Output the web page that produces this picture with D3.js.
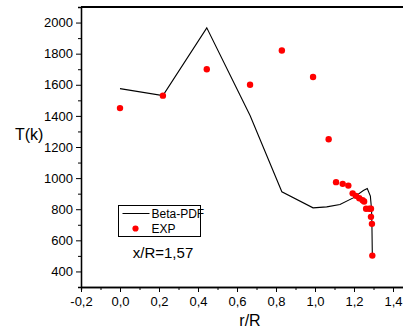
<!DOCTYPE html>
<html>
<head>
<meta charset="utf-8">
<script src="https://cdn.jsdelivr.net/npm/d3@7"></script>
<style>
	body { margin: 0; background: #fff; }
	text { font-family: "Liberation Sans", Arial, sans-serif; fill: #000; }
</style>
</head>
<body>
<div id="graph"></div>
<script>
// Beta-PDF curve
const beta_r = [0.0, 0.22, 0.445, 0.667, 0.83, 0.99, 1.06, 1.128, 1.196, 1.248, 1.268, 1.284, 1.29, 1.292, 1.294];
const beta_t = [1575, 1530, 1966, 1402, 912, 809, 815, 830, 873, 920, 933, 884, 798, 691, 498];

// experimental points
const exp_r = [0.0, 0.22, 0.445, 0.667, 0.83, 0.99, 1.07, 1.108, 1.142, 1.171, 1.193, 1.21, 1.227, 1.244, 1.252, 1.262, 1.278, 1.287, 1.287, 1.292, 1.294];
const exp_t = [1450, 1530, 1700, 1600, 1820, 1650, 1250, 974, 963, 952, 902, 886, 871, 858, 850, 803, 803, 803, 751, 706, 502];

const x_ticks = [-0.2, 0, 0.2, 0.4, 0.6, 0.8, 1.0, 1.2, 1.4];
const y_ticks = [400, 600, 800, 1000, 1200, 1400, 1600, 1800, 2000];

const params = {
		width: 403,
		height: 331,
		left: 81,
		top: 7,
		bottom: 287,
		dot_r: 3.2,
		red: "#ff0000"
	},
	svg = d3.select('#graph').append('svg')
		.attr('width', params.width)
		.attr('height', params.height);

const x = d3.scaleLinear().domain([-0.2, 1.5]).range([params.left, params.left + 1.7 * 195]),
	y = d3.scaleLinear().domain([300, 2100]).range([params.bottom, params.top]);

const comma = v => v.toFixed(1).replace('.', ',');

// minor ticks first, majors drawn over them
svg.append('g')
	.attr('transform', `translate(0,${params.bottom})`)
	.call(d3.axisBottom(x).tickValues(d3.range(-0.1, 1.5, 0.2)).tickSize(3).tickFormat(''));
svg.append('g')
	.attr('transform', `translate(${params.left},0)`)
	.call(d3.axisLeft(y).tickValues(d3.range(300, 2101, 200)).tickSize(3).tickFormat(''));

const xAxis = svg.append('g')
	.attr('transform', `translate(0,${params.bottom})`)
	.call(d3.axisBottom(x).tickValues(x_ticks).tickSize(5).tickSizeOuter(0).tickPadding(5).tickFormat(comma));
const yAxis = svg.append('g')
	.attr('transform', `translate(${params.left},0)`)
	.call(d3.axisLeft(y).tickValues(y_ticks).tickSize(5).tickSizeOuter(0).tickPadding(3).tickFormat(d => d));

svg.selectAll('.domain').attr('stroke', '#000').attr('stroke-width', 1.3);
svg.selectAll('.tick line').attr('stroke', '#000');
xAxis.selectAll('text').attr('font-size', 13).attr('font-family', '"Liberation Sans", Arial, sans-serif');
yAxis.selectAll('text').attr('font-size', 13).attr('font-family', '"Liberation Sans", Arial, sans-serif');

// top frame line
svg.append('line')
	.attr('x1', params.left).attr('x2', params.width)
	.attr('y1', params.top).attr('y2', params.top)
	.attr('stroke', '#000').attr('stroke-width', 2);

// axis titles
svg.append('text')
	.attr('x', 15).attr('y', 140)
	.attr('font-size', 16)
	.text('T(k)');
svg.append('text')
	.attr('x', 250).attr('y', 326)
	.attr('text-anchor', 'middle')
	.attr('font-size', 16)
	.text('r/R');

// Beta-PDF line
const beta = beta_r.map((r, i) => [r, beta_t[i]]);
svg.append('path')
	.datum(beta)
	.attr('fill', 'none')
	.attr('stroke', '#000')
	.attr('stroke-width', 1.1)
	.attr('d', d3.line().x(d => x(d[0])).y(d => y(d[1])));

// EXP points
svg.append('g').selectAll('circle')
	.data(exp_r.map((r, i) => [r, exp_t[i]]))
	.join('circle')
	.attr('cx', d => x(d[0]))
	.attr('cy', d => y(d[1]))
	.attr('r', params.dot_r)
	.attr('fill', params.red);

// legend
const legend = svg.append('g').attr('transform', 'translate(118.5,205.5)');
legend.append('rect')
	.attr('width', 82).attr('height', 31)
	.attr('fill', '#fff').attr('stroke', '#000').attr('stroke-width', 1);
legend.append('line')
	.attr('x1', 4).attr('x2', 31).attr('y1', 8).attr('y2', 8)
	.attr('stroke', '#000').attr('stroke-width', 1);
legend.append('text')
	.attr('x', 33).attr('y', 12).attr('font-size', 12)
	.text('Beta-PDF');
legend.append('circle')
	.attr('cx', 17).attr('cy', 23).attr('r', 3.1)
	.attr('fill', params.red);
legend.append('text')
	.attr('x', 33).attr('y', 27.5).attr('font-size', 12)
	.text('EXP');

svg.append('text')
	.attr('x', 163).attr('y', 258)
	.attr('text-anchor', 'middle')
	.attr('font-size', 15)
	.text('x/R=1,57');
</script>
</body>
</html>
